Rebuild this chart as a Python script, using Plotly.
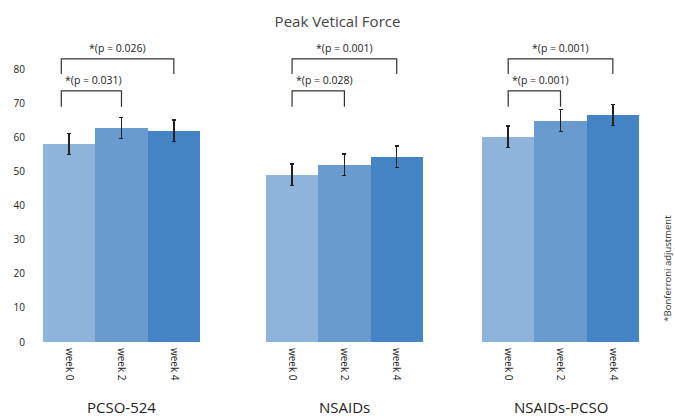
import plotly.graph_objects as go

groups = ["PCSO-524", "NSAIDs", "NSAIDs-PCSO"]
weeks = ["week 0", "week 2", "week 4"]
values = {
    "week 0": [58.1, 49.0, 60.2],
    "week 2": [62.8, 52.0, 64.9],
    "week 4": [61.9, 54.3, 66.6],
}
errors = {
    "week 0": [3.1, 3.2, 3.1],
    "week 2": [3.1, 3.1, 3.2],
    "week 4": [3.2, 3.2, 3.1],
}
y_ticks = [0, 10, 20, 30, 40, 50, 60, 70, 80]
# significance brackets: (group index, from week index, to week index, label, level)
brackets = [
    (0, 0, 2, "*(p = 0.026)", "outer"),
    (0, 0, 1, "*(p = 0.031)", "inner"),
    (1, 0, 2, "*(p = 0.001)", "outer"),
    (1, 0, 1, "*(p = 0.028)", "inner"),
    (2, 0, 2, "*(p = 0.001)", "outer"),
    (2, 0, 1, "*(p = 0.001)", "inner"),
]
title = "Peak Vetical Force"
footnote = "*Bonferroni adjustment"

# layout helpers
group_offsets = [0, 4.26, 8.39]
colors = {"week 0": "#8fb4db", "week 2": "#6a9bcf", "week 4": "#4483c4"}
left_shift = {0: -0.15, 1: 0.0, 2: 0.0}
levels = {"outer": (78.6, 83.0), "inner": (69.0, 73.6)}

fig = go.Figure()
tickvals, ticktext = [], []
for wi, w in enumerate(weeks):
    xs = [g + wi for g in group_offsets]
    fig.add_trace(go.Bar(
        x=xs, y=values[w], width=1,
        marker=dict(color=colors[w], line=dict(width=0)),
        error_y=dict(type="data", array=errors[w], visible=True,
                     color="#222222", thickness=1.4, width=2),
        showlegend=False, name=w,
    ))
for g in group_offsets:
    for wi, w in enumerate(weeks):
        tickvals.append(g + wi)
        ticktext.append(w)

for gi, a, b, label, lvl in brackets:
    x0 = group_offsets[gi] + a + left_shift[gi]
    x1 = group_offsets[gi] + b
    ylo, yhi = levels[lvl]
    fig.add_shape(type="path",
                  path=f"M {x0} {ylo} L {x0} {yhi} L {x1} {yhi} L {x1} {ylo}",
                  xref="x", yref="y", line=dict(color="#333333", width=1.2))
    if lvl == "outer":
        fig.add_annotation(x=(x0 + x1) / 2, y=yhi, yshift=11, text=label,
                           showarrow=False, xanchor="center", yanchor="middle",
                           font=dict(size=10.5, color="#222222"))
    else:
        fig.add_annotation(x=x0, y=yhi, xshift=2, yshift=11, text=label,
                           showarrow=False, xanchor="left", yanchor="middle",
                           font=dict(size=10.5, color="#222222"))

for gi, gname in enumerate(groups):
    fig.add_annotation(x=group_offsets[gi] + 1, y=0, yref="paper", yshift=-65,
                       text=gname, showarrow=False, xanchor="center", yanchor="middle",
                       font=dict(size=15, color="#222222"))

fig.add_annotation(x=1, xref="paper", xshift=29, xanchor="center",
                   y=0.239, yref="paper", yanchor="middle",
                   text=footnote, showarrow=False, textangle=-90,
                   font=dict(size=9.5, color="#333333"))

fig.update_layout(
    width=675, height=416,
    margin=dict(l=43, r=36, t=35, b=73.5),
    paper_bgcolor="white", plot_bgcolor="white",
    font=dict(family="Open Sans, Noto Sans, sans-serif", color="#333333"),
    title=dict(text=title, x=0.5, xanchor="center", y=0.947, yanchor="middle",
               font=dict(size=15, color="#444444")),
    bargap=0,
    xaxis=dict(range=[-0.5, 10.89], tickvals=tickvals, ticktext=ticktext,
               tickangle=90, showgrid=False, zeroline=False, showline=False,
               ticks="", ticklabelstandoff=5, tickfont=dict(size=10, color="#222222")),
    yaxis=dict(range=[0, 90], tickvals=y_ticks, showgrid=False, zeroline=False,
               showline=False, ticks="", ticklabelstandoff=17,
               tickfont=dict(size=10, color="#222222")),
)

fig.write_html("out.html", config={"displayModeBar": False},
               post_script="document.body.style.margin='0';document.body.style.overflow='hidden';")
